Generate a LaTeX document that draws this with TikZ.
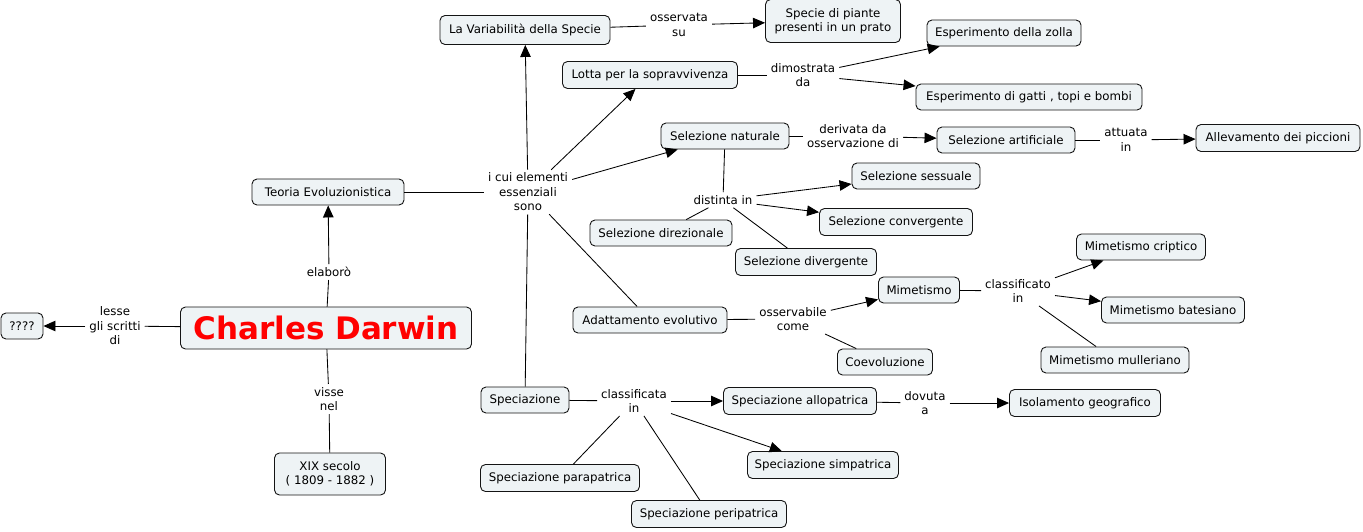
\documentclass[tikz,border=0pt]{standalone}
\usepackage{fontspec}
\setmainfont{DejaVu Sans}
\usetikzlibrary{arrows.meta}
\definecolor{boxfill}{RGB}{238,243,245}
\definecolor{boxline}{RGB}{20,20,20}
\tikzset{
  concept/.style={draw=boxline, line width=0.9pt, fill=boxfill, rounded corners=5pt,
    font=\fontsize{11.8}{14.5}\selectfont, align=center, inner sep=2pt, minimum height=26pt},
  lab/.style={font=\fontsize{11.8}{14.5}\selectfont, align=center, inner xsep=4pt, inner ysep=3pt},
  con/.style={line width=0.85pt, draw=black},
  arr/.style={con, -{Triangle[length=12pt,width=10.5pt]}},
}
\begin{document}
\begin{tikzpicture}[x=1pt,y=-1pt]
\useasboundingbox (0,0) rectangle (1363,531);
% concepts
\node[concept, minimum width=42pt] (q) at (22,326) {????};
\node[concept, minimum width=291pt, minimum height=42pt, font=\fontsize{31}{36}\bfseries\selectfont, text=red] (cd) at (326,328) {Charles Darwin};
\node[concept, minimum width=152pt] (teo) at (328,192) {Teoria Evoluzionistica};
\node[concept, minimum width=111pt, minimum height=42pt] (xix) at (330,474) {XIX secolo\\( 1809 - 1882 )};
\node[concept, minimum width=170pt, minimum height=29pt] (var) at (525,30) {La Variabilità della Specie};
\node[concept, minimum width=135pt, minimum height=43pt] (spp) at (833,21) {Specie di piante\\presenti in un prato};
\node[concept, minimum width=175pt, minimum height=27pt] (lot) at (650,75) {Lotta per la sopravvivenza};
\node[concept, minimum width=154pt] (zol) at (1004,33) {Esperimento della zolla};
\node[concept, minimum width=226pt] (gat) at (1029,97) {Esperimento di gatti , topi e bombi};
\node[concept, minimum width=128pt] (snat) at (725,136) {Selezione naturale};
\node[concept, minimum width=138pt] (sart) at (1006,140) {Selezione artificiale};
\node[concept, minimum width=164pt, minimum height=27pt] (all) at (1278,138) {Allevamento dei piccioni};
\node[concept, minimum width=128pt] (sses) at (916,176) {Selezione sessuale};
\node[concept, minimum width=153pt, minimum height=27pt] (scon) at (896,222) {Selezione convergente};
\node[concept, minimum width=142pt] (sdir) at (661,233) {Selezione direzionale};
\node[concept, minimum width=141pt, minimum height=27pt] (sdiv) at (806,262) {Selezione divergente};
\node[concept, minimum width=154pt] (ada) at (650,320) {Adattamento evolutivo};
\node[concept, minimum width=81pt] (mim) at (919,290) {Mimetismo};
\node[concept, minimum width=95pt] (coe) at (885,362) {Coevoluzione};
\node[concept, minimum width=129pt] (mcr) at (1141,247) {Mimetismo criptico};
\node[concept, minimum width=143pt] (mba) at (1173,310) {Mimetismo batesiano};
\node[concept, minimum width=148pt] (mmu) at (1115,360) {Mimetismo mulleriano};
\node[concept, minimum width=88pt] (spe) at (525,400) {Speciazione};
\node[concept, minimum width=153pt, minimum height=27pt] (sal) at (800,401) {Speciazione allopatrica};
\node[concept, minimum width=151pt, minimum height=27pt] (iso) at (1085,403) {Isolamento geografico};
\node[concept, minimum width=151pt, minimum height=27pt] (ssi) at (823,465) {Speciazione simpatrica};
\node[concept, minimum width=159pt, minimum height=27pt] (spa) at (560,478) {Speciazione parapatrica};
\node[concept, minimum width=155pt, minimum height=27pt] (spr) at (709,514) {Speciazione peripatrica};
% linking phrases
\node[lab] (l1) at (115,326) {lesse\\gli scritti\\di};
\node[lab] (l2) at (329,272) {elaborò};
\node[lab] (l3) at (329,399) {visse\\nel};
\node[lab] (l4) at (528,192) {i cui elementi\\essenziali\\sono};
\node[lab] (l5) at (679,25) {osservata\\su};
\node[lab] (l6) at (803,75) {dimostrata\\da};
\node[lab] (l7) at (853,136) {derivata da\\osservazione di};
\node[lab] (l8) at (1126,140) {attuata\\in};
\node[lab] (l9) at (723,200) {distinta in};
\node[lab] (l10) at (793,319) {osservabile\\come};
\node[lab] (l11) at (1018,291) {classificato\\in};
\node[lab] (l12) at (634,401) {classificata\\in};
\node[lab] (l13) at (925,403) {dovuta\\a};
% connections
\draw[con] (cd) -- (l1); \draw[arr] (l1) -- (q);
\draw[con] (cd) -- (l2); \draw[arr] (l2) -- (teo);
\draw[con] (cd) -- (l3); \draw[con] (l3) -- (xix);
\draw[con] (teo) -- (l4);
\draw[arr] (l4) -- (var);
\draw[arr] (l4) -- (lot);
\draw[arr] (l4) -- (snat);
\draw[con] (l4) -- (ada);
\draw[con] (l4) -- (spe);
\draw[con] (var) -- (l5); \draw[arr] (l5) -- (spp);
\draw[con] (lot) -- (l6); \draw[arr] (l6) -- (zol); \draw[arr] (l6) -- (gat);
\draw[con] (snat) -- (l7); \draw[arr] (l7) -- (sart);
\draw[con] (sart) -- (l8); \draw[arr] (l8) -- (all);
\draw[con] (snat) -- (l9); \draw[arr] (l9) -- (sses); \draw[arr] (l9) -- (scon);
\draw[con] (l9) -- (sdir); \draw[con] (l9) -- (sdiv);
\draw[con] (ada) -- (l10); \draw[arr] (l10) -- (mim); \draw[con] (l10) -- (coe);
\draw[con] (mim) -- (l11); \draw[arr] (l11) -- (mcr); \draw[arr] (l11) -- (mba); \draw[con] (l11) -- (mmu);
\draw[con] (spe) -- (l12); \draw[arr] (l12) -- (sal); \draw[arr] (l12) -- (ssi);
\draw[con] (l12) -- (spa); \draw[con] (l12) -- (spr);
\draw[con] (sal) -- (l13); \draw[arr] (l13) -- (iso);
\end{tikzpicture}
\end{document}
